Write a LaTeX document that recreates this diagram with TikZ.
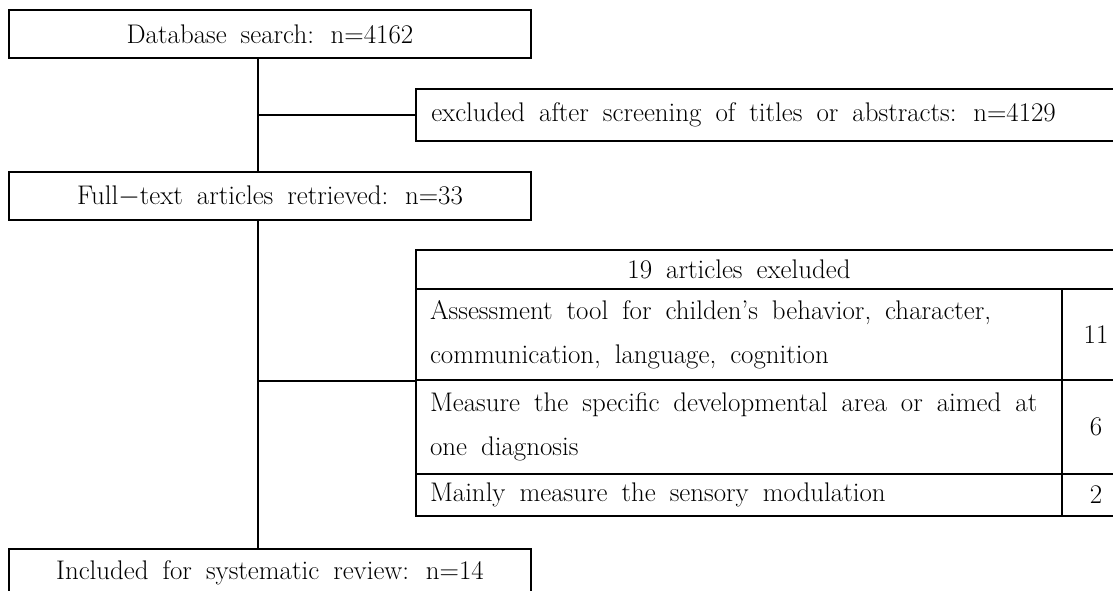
\documentclass[tikz,border=0pt]{standalone}
\newcommand\flowfont{\fontsize{20.2}{33}\selectfont}
\newcommand\widespaces{\spaceskip=0.52em plus 0.1em\relax}
\tikzset{
  frame/.style={draw, line width=1.45pt, inner sep=0pt, font=\flowfont,
    execute at begin node=\widespaces},
  stagebox/.style={frame, minimum width=522*0.75pt, minimum height=48*0.75pt},
  cell/.style={frame, inner xsep=14*0.75pt, inner ysep=0pt, align=left},
  numcell/.style={frame, minimum width=68*0.75pt, align=center},
  label/.style={inner sep=0pt, font=\flowfont, execute at begin node=\widespaces},
  link/.style={line width=1.45pt},
}
\begin{document}
\begin{tikzpicture}[x=0.75pt,y=-0.75pt]
  \useasboundingbox (0,0) rectangle (1113,591);
  \clip (0,0) rectangle (1113,591);

  % main stages
  \node[stagebox] (db) at (270,34) {Database search: n=4162};
  \node[stagebox] (ft) at (270,196) {Full$-$text articles retrieved: n=33};
  \node[stagebox] (inc) at (270,573) {Included for systematic review: n=14};
  \coordinate (spine) at (258,0);

  % first exclusion
  \node[frame, minimum width=714*0.75pt, minimum height=52*0.75pt] (ex) at (773,115) {};
  \node[label, anchor=west] (extxt) at (431,115) {excluded after screening of titles or abstracts: n=4129};

  % exclusion table
  \node[frame, minimum width=714*0.75pt, minimum height=39*0.75pt] (hdr) at (773,269.5) {};
  \node[label] (hdrtxt) at (739,269.5) {19 articles exeluded};
  \node[cell, text width=618*0.75pt, minimum height=91*0.75pt] (r1) at (739,334.5)
    {Assessment tool for childen's behavior, character,\\communication, language, cognition};
  \node[numcell, minimum height=91*0.75pt] (n1) at (1096,334.5) {11};
  \node[cell, text width=618*0.75pt, minimum height=94*0.75pt] (r2) at (739,427)
    {Measure the specific developmental area or aimed at\\one diagnosis};
  \node[numcell, minimum height=94*0.75pt] (n2) at (1096,427) {6};
  \node[cell, text width=618*0.75pt, minimum height=42*0.75pt] (r3) at (739,495)
    {Mainly measure the sensory modulation};
  \node[numcell, minimum height=42*0.75pt] (n3) at (1096,495) {2};

  % connectors
  \draw[link] (db.south -| spine) -- (ft.north -| spine);
  \draw[link] (ft.south -| spine) -- (inc.north -| spine);
  \draw[link] (spine |- ex.west) -- (ex.west);
  \draw[link] (spine |- r1.south west) -- (r1.south west);
\end{tikzpicture}
\end{document}
